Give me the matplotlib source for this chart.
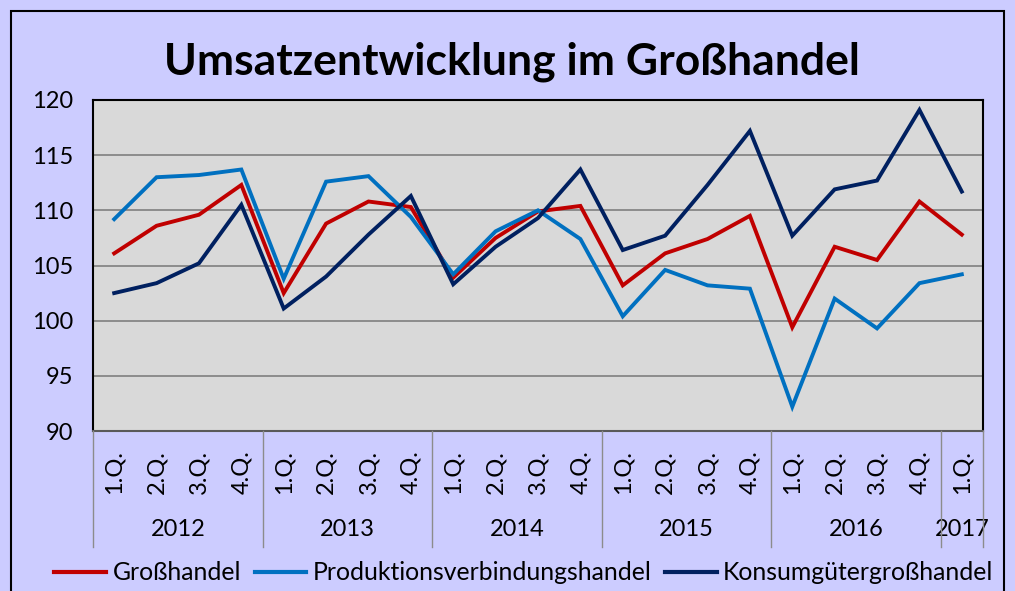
import matplotlib
matplotlib.use("Agg")
import matplotlib.pyplot as plt
from matplotlib.lines import Line2D
from matplotlib.patches import Rectangle
import matplotlib.transforms as mtransforms

quarters = ["1.Q.", "2.Q.", "3.Q.", "4.Q."] * 5 + ["1.Q."]
years = ["2012", "2013", "2014", "2015", "2016", "2017"]
year_counts = [4, 4, 4, 4, 4, 1]

grosshandel = [106.1, 108.6, 109.6, 112.3, 102.5, 108.8, 110.8, 110.3, 103.9, 107.5, 109.9,
               110.4, 103.2, 106.1, 107.4, 109.5, 99.4, 106.7, 105.5, 110.8, 107.8]
produktion = [109.2, 113.0, 113.2, 113.7, 103.8, 112.6, 113.1, 109.4, 104.2, 108.1, 110.0,
              107.4, 100.4, 104.6, 103.2, 102.9, 92.2, 102.0, 99.3, 103.4, 104.2]
konsum = [102.5, 103.4, 105.2, 110.5, 101.1, 104.0, 107.8, 111.3, 103.3, 106.7, 109.3,
          113.7, 106.4, 107.7, 112.3, 117.2, 107.7, 111.9, 112.7, 119.1, 111.7]
series_names = ["Großhandel", "Produktionsverbindungshandel", "Konsumgütergroßhandel"]
colors = ["#C00000", "#0070C0", "#002060"]

W, H = 1015, 591
fig = plt.figure(figsize=(W / 100, H / 100), dpi=100)
fig.patch.set_facecolor("#CCCCFF")
fig.patches.append(Rectangle((11 / W, -0.01), (1004 - 11) / W, (H - 11) / H + 0.01,
                             transform=fig.transFigure, fill=False, edgecolor="black",
                             linewidth=1.5, zorder=10))

fam = ["Lato", "DejaVu Sans"]
fs = 17

x0, x1, ytop, ybot = 93, 983, 100, 431
ax = fig.add_axes([x0 / W, (H - ybot) / H, (x1 - x0) / W, (ybot - ytop) / H])
ax.set_facecolor("#D9D9D9")
xs = list(range(len(quarters)))
for data, name, c in zip([grosshandel, produktion, konsum], series_names, colors):
    ax.plot(xs, data, color=c, linewidth=2.8, label=name, solid_joinstyle="miter")

ax.set_xlim(-0.5, len(quarters) - 0.5)
ax.set_ylim(90, 120)
ax.set_yticks(range(90, 121, 5))
ax.yaxis.grid(True, color="#808080", linewidth=1.2)
ax.set_axisbelow(True)
ax.tick_params(axis="y", length=0, pad=14, labelsize=fs)
for lab in ax.get_yticklabels():
    lab.set_fontfamily(fam)
ax.set_xticks([])
for s in ax.spines.values():
    s.set_color("black")
    s.set_linewidth(1.5)
ax.spines["bottom"].set_color("#595959")

trans = mtransforms.blended_transform_factory(ax.transData, fig.transFigure)
for i, q in enumerate(quarters):
    ax.text(i, (H - 472) / H, q, rotation=90, ha="center", va="center",
            fontsize=fs, fontfamily=fam, transform=trans)
pos = -0.5
bounds = [pos]
for yr, n in zip(years, year_counts):
    ax.text(pos + n / 2, (H - 530) / H, yr, ha="center", va="center",
            fontsize=fs, fontfamily=fam, transform=trans)
    pos += n
    bounds.append(pos)
for b in bounds:
    fig.add_artist(Line2D([b, b], [(H - 431) / H, (H - 547) / H], transform=trans,
                          color="#8C8C8C", linewidth=1.0))

fig.text(512 / W, (H - 62) / H, "Umsatzentwicklung im Großhandel", ha="center", va="center",
         fontsize=32, fontweight="bold", fontfamily=fam)

handles = [Line2D([], [], color=c, linewidth=3) for c in colors]
leg = fig.legend(handles, series_names, loc="center", bbox_to_anchor=(524 / W, (H - 573) / H),
                 ncol=3, frameon=False, handlelength=2.1, handletextpad=0.25, columnspacing=0.55,
                 prop={"family": fam, "size": 17.8})

fig.savefig("out.png", dpi=100, facecolor=fig.get_facecolor())
